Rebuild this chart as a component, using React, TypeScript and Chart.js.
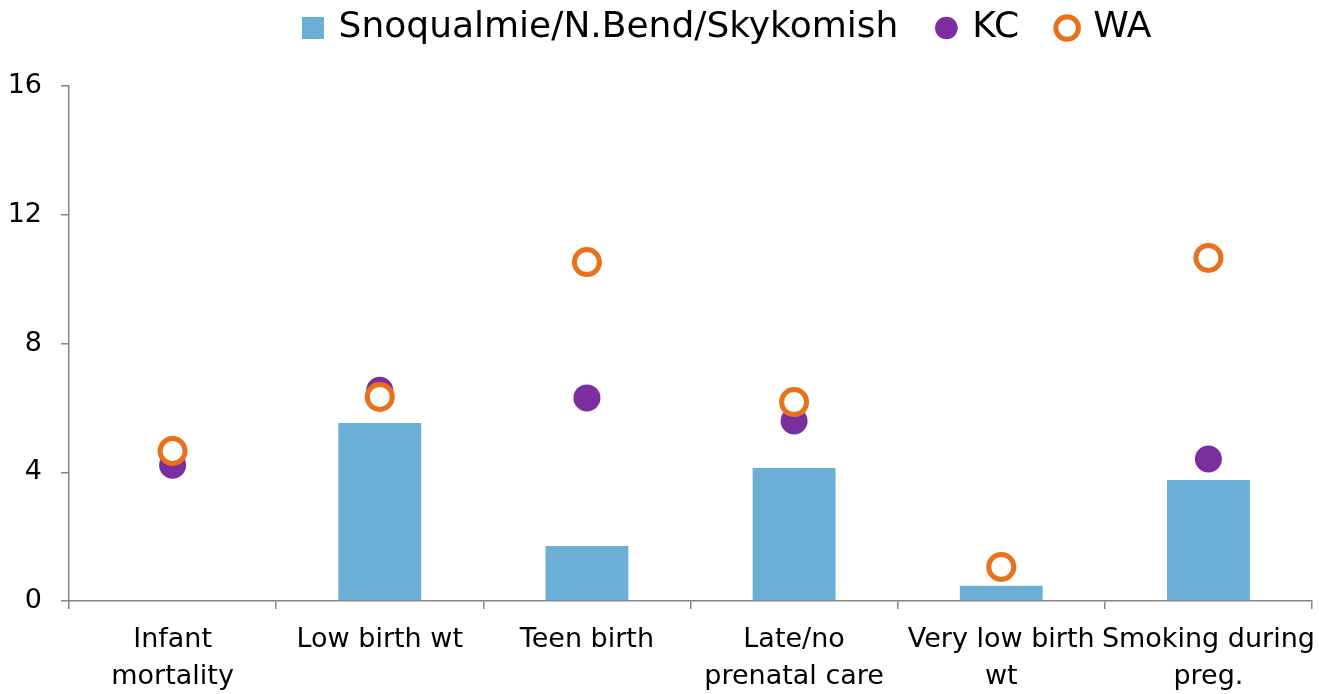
import React, { useEffect, useRef } from "react";
import { Chart, registerables } from "chart.js";

Chart.register(...registerables);

const categories: (string | string[])[] = [
  ["Infant", "mortality"],
  "Low birth wt",
  "Teen birth",
  ["Late/no", "prenatal care"],
  ["Very low birth", "wt"],
  ["Smoking during", "preg."],
];
const areaValues: (number | null)[] = [null, 5.53, 1.71, 4.13, 0.47, 3.76];
const kcValues: number[] = [4.22, 6.55, 6.31, 5.59, 1.03, 4.41];
const waValues: number[] = [4.66, 6.34, 10.53, 6.18, 1.06, 10.66];
const yTicks: number[] = [0, 4, 8, 12, 16];

const FONT = "'DejaVu Sans', sans-serif";
const AXIS = "#868686";
const BAR_COLOR = "#6baed6";

function makeSquareIcon(size: number, color: string): HTMLCanvasElement {
  const c = document.createElement("canvas");
  c.width = size;
  c.height = size;
  const ctx = c.getContext("2d");
  if (ctx) {
    ctx.fillStyle = color;
    ctx.fillRect(0, 0, size, size);
  }
  return c;
}

export default function App() {
  const ref = useRef<HTMLCanvasElement | null>(null);
  useEffect(() => {
    if (!ref.current) return;
    const legendPlacementPlugin = {
      id: "legendPlacement",
      beforeInit(chart: any) {
        const legend = chart.legend;
        if (!legend) return;
        const orig = legend.fit;
        legend.fit = function () {
          orig.call(this);
          this.height = 116;
        };
      },
      afterLayout(chart: any) {
        const legend = chart.legend;
        if (!legend) return;
        legend.left += 72;
        legend.right += 72;
      },
    };
    const squareIcon = makeSquareIcon(22, BAR_COLOR);
    const chart = new Chart(ref.current, {
      type: "bar",
      data: {
        labels: categories,
        datasets: [
          {
            type: "bar",
            label: "Snoqualmie/N.Bend/Skykomish",
            data: areaValues,
            backgroundColor: BAR_COLOR,
            borderWidth: 0,
            barPercentage: 0.4,
            categoryPercentage: 1,
            pointStyle: squareIcon,
            order: 3,
          } as any,
          {
            type: "line",
            label: "KC",
            data: kcValues,
            showLine: false,
            pointStyle: "circle",
            pointRadius: 13.5,
            pointBorderWidth: 0,
            pointBackgroundColor: "#7b2f9e",
            pointBorderColor: "#7b2f9e",
            backgroundColor: "#7b2f9e",
            borderColor: "#7b2f9e",
            order: 2,
          } as any,
          {
            type: "line",
            label: "WA",
            data: waValues,
            showLine: false,
            pointStyle: "circle",
            pointRadius: 12.5,
            pointBorderWidth: 5,
            pointBackgroundColor: "#ffffff",
            pointBorderColor: "#e8711a",
            backgroundColor: "#ffffff",
            borderColor: "#e8711a",
            order: 1,
          } as any,
        ],
      },
      options: {
        animation: false,
        responsive: false,
        maintainAspectRatio: false,
        layout: { autoPadding: false, padding: { top: -30, right: 7, left: 0, bottom: 0 } },
        plugins: {
          tooltip: { enabled: false },
          legend: {
            display: true,
            position: "top",
            align: "center",
            labels: {
              usePointStyle: true,
              boxWidth: 16,
              boxHeight: 16,
              padding: 40,
              color: "#000000",
              font: { family: FONT, size: 36 },
              sort: (a: any, b: any) => a.datasetIndex - b.datasetIndex,
            },
          },
        },
        scales: {
          x: {
            offset: true,
            grid: {
              display: true,
              offset: true,
              drawOnChartArea: false,
              drawTicks: true,
              tickLength: 8,
              color: AXIS,
              lineWidth: 1.5,
            },
            border: { display: true, color: AXIS, width: 1.5 },
            ticks: {
              autoSkip: false,
              maxRotation: 0,
              minRotation: 0,
              padding: 12,
              color: "#000000",
              font: { family: FONT, size: 27, lineHeight: 1.37 },
            },
            afterFit: (scale: any) => {
              scale.height = 93;
              scale.paddingLeft = 0;
              scale.paddingRight = 0;
            },
          },
          y: {
            min: 0,
            max: 16,
            afterBuildTicks: (scale: any) => {
              scale.ticks = yTicks.map((v) => ({ value: v }));
            },
            grid: {
              display: true,
              drawOnChartArea: false,
              drawTicks: true,
              tickLength: 8,
              color: AXIS,
              lineWidth: 1.5,
            },
            border: { display: true, color: AXIS, width: 1.5 },
            ticks: {
              padding: 19,
              color: "#000000",
              font: { family: FONT, size: 27 },
            },
            afterFit: (scale: any) => {
              scale.width = 69;
              scale.paddingTop = 0;
            },
          },
        },
      },
      plugins: [legendPlacementPlugin],
    } as any);
    return () => chart.destroy();
  }, []);
  return (
    <div style={{ position: "absolute", left: 0, top: 0, width: 1319, height: 694, background: "#ffffff" }}>
      <canvas ref={ref} width={1319} height={694} style={{ width: 1319, height: 694, display: "block" }} />
    </div>
  );
}
